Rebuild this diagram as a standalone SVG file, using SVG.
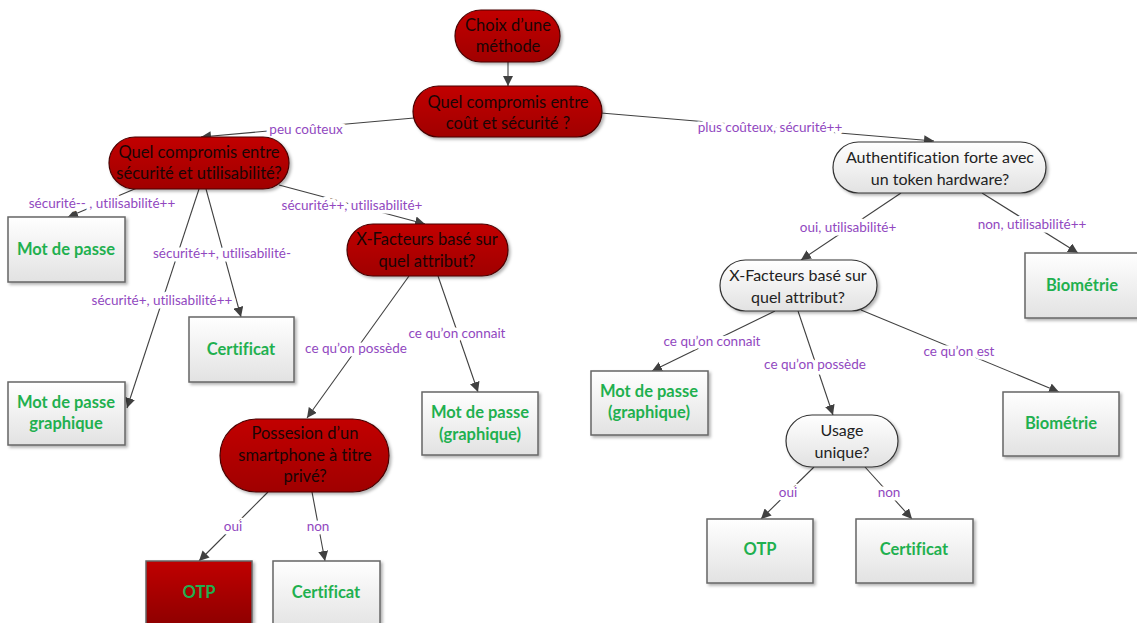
<svg xmlns="http://www.w3.org/2000/svg" width="1137" height="623" viewBox="0 0 1137 623">
  <defs>
    <linearGradient id="gRed" x1="0" y1="0" x2="0" y2="1">
      <stop offset="0" stop-color="#c20000"/>
      <stop offset="1" stop-color="#a00000"/>
    </linearGradient>
    <linearGradient id="gRedBox" x1="0" y1="0" x2="0" y2="1">
      <stop offset="0" stop-color="#c00000"/>
      <stop offset="1" stop-color="#8a0000"/>
    </linearGradient>
    <linearGradient id="gLight" x1="0" y1="0" x2="0" y2="1">
      <stop offset="0" stop-color="#ffffff"/>
      <stop offset="1" stop-color="#e2e2e2"/>
    </linearGradient>
    <filter id="shadow" x="-10%" y="-10%" width="125%" height="130%">
      <feDropShadow dx="2" dy="2" stdDeviation="1.5" flood-color="#000" flood-opacity="0.3"/>
    </filter>
    <marker id="arrow" viewBox="0 0 10 10" refX="10" refY="5" markerWidth="10" markerHeight="10" markerUnits="userSpaceOnUse" orient="auto">
      <path d="M0,0 L10,5 L0,10 z" fill="#404040"/>
    </marker>
  </defs>
  <style>
    text { font-family: Lato, "Open Sans", "Liberation Sans", sans-serif; font-variant-ligatures: none; text-anchor: middle; }
    .q { font-size: 16.5px; fill: #1a0505; }
    .qw { font-size: 16px; fill: #222; }
    .r { font-size: 16.5px; font-weight: bold; fill: #1fb04f; }
    .lbl { font-size: 13.5px; fill: #9148c0; stroke: #ffffff; stroke-width: 7px; stroke-linejoin: round; paint-order: stroke; }
    .red { fill: url(#gRed); stroke: #4a0000; stroke-width: 1.2; filter: url(#shadow); }
    .white { fill: url(#gLight); stroke: #333; stroke-width: 1.2; filter: url(#shadow); }
    .box { fill: url(#gLight); stroke: #666; stroke-width: 1.5; filter: url(#shadow); }
    .boxred { fill: url(#gRedBox); stroke: #666; stroke-width: 1.5; filter: url(#shadow); }
    .edge { fill: none; stroke: #404040; stroke-width: 1.1; marker-end: url(#arrow); }
  </style>
  <rect width="1137" height="623" fill="#ffffff"/>

  <!-- connectors -->
  <g id="connectors">
    <line class="edge" x1="508" y1="62" x2="508" y2="86"/>
    <line class="edge" x1="414" y1="118" x2="201" y2="137"/>
    <line class="edge" x1="601" y1="113" x2="934" y2="141"/>
    <line class="edge" x1="137" y1="188" x2="68" y2="217"/>
    <line class="edge" x1="199" y1="189" x2="127" y2="408"/>
    <line class="edge" x1="206" y1="189" x2="241" y2="317"/>
    <line class="edge" x1="279" y1="185" x2="425" y2="224"/>
    <line class="edge" x1="409" y1="276" x2="307" y2="418"/>
    <line class="edge" x1="438" y1="276" x2="478" y2="392"/>
    <line class="edge" x1="268" y1="492" x2="199" y2="561"/>
    <line class="edge" x1="312" y1="492" x2="325" y2="561"/>
    <line class="edge" x1="901" y1="193" x2="801" y2="260"/>
    <line class="edge" x1="982" y1="193" x2="1078" y2="253"/>
    <line class="edge" x1="775" y1="311" x2="652" y2="371"/>
    <line class="edge" x1="798" y1="311" x2="833" y2="415"/>
    <line class="edge" x1="861" y1="310" x2="1059" y2="392"/>
    <line class="edge" x1="814" y1="467" x2="761" y2="519"/>
    <line class="edge" x1="865" y1="467" x2="912" y2="519"/>

    <text class="lbl" x="306" y="134">peu coûteux</text>
    <text class="lbl" x="770" y="132">plus coûteux, sécurité++</text>
    <text class="lbl" x="102" y="208">sécurité-- , utilisabilité++</text>
    <text class="lbl" x="222" y="258">sécurité++, utilisabilité-</text>
    <text class="lbl" x="162" y="305">sécurité+, utilisabilité++</text>
    <text class="lbl" x="352" y="210">sécurité++, utilisabilité+</text>
    <text class="lbl" x="356" y="353">ce qu’on possède</text>
    <text class="lbl" x="457" y="338">ce qu’on connait</text>
    <text class="lbl" x="233" y="531">oui</text>
    <text class="lbl" x="318" y="531">non</text>
    <text class="lbl" x="848" y="232">oui, utilisabilité+</text>
    <text class="lbl" x="1032" y="229">non, utilisabilité++</text>
    <text class="lbl" x="712" y="346">ce qu’on connait</text>
    <text class="lbl" x="815" y="369">ce qu’on possède</text>
    <text class="lbl" x="959" y="356">ce qu’on est</text>
    <text class="lbl" x="788" y="497">oui</text>
    <text class="lbl" x="889" y="497">non</text>
  </g>

  <!-- question nodes -->
  <g id="n-choix">
    <rect class="red" x="455" y="10" width="105" height="52" rx="26"/>
    <text class="q" x="508" y="31">Choix d’une</text>
    <text class="q" x="508" y="52">méthode</text>
  </g>
  <g id="n-cout">
    <rect class="red" x="413" y="86" width="189" height="51" rx="25.5"/>
    <text class="q" x="508" y="108">Quel compromis entre</text>
    <text class="q" x="508" y="129">coût et sécurité ?</text>
  </g>
  <g id="n-util">
    <rect class="red" x="109" y="137" width="180" height="52" rx="26"/>
    <text class="q" x="199" y="158">Quel compromis entre</text>
    <text class="q" x="199" y="179">sécurité et utilisabilité?</text>
  </g>
  <g id="n-xf1">
    <rect class="red" x="347" y="224" width="161" height="52" rx="26"/>
    <text class="q" x="427" y="245">X-Facteurs basé sur</text>
    <text class="q" x="427" y="267">quel attribut?</text>
  </g>
  <g id="n-smart">
    <rect class="red" x="220" y="419" width="169" height="73" rx="36.5"/>
    <text class="q" x="305" y="439">Possesion d’un</text>
    <text class="q" x="305" y="461">smartphone à titre</text>
    <text class="q" x="305" y="482">privé?</text>
  </g>
  <g id="n-token">
    <rect class="white" x="833" y="142" width="213" height="51" rx="25.5"/>
    <text class="qw" x="940" y="163">Authentification forte avec</text>
    <text class="qw" x="940" y="185">un token hardware?</text>
  </g>
  <g id="n-xf2">
    <rect class="white" x="720" y="260" width="157" height="51" rx="25.5"/>
    <text class="qw" x="798" y="281">X-Facteurs basé sur</text>
    <text class="qw" x="798" y="303">quel attribut?</text>
  </g>
  <g id="n-usage">
    <rect class="white" x="786" y="415" width="112" height="52" rx="26"/>
    <text class="qw" x="842" y="436">Usage</text>
    <text class="qw" x="842" y="458">unique?</text>
  </g>

  <!-- result boxes -->
  <g id="r-mdp1">
    <rect class="box" x="8" y="217" width="117" height="65"/>
    <text class="r" x="66" y="255">Mot de passe</text>
  </g>
  <g id="r-cert1">
    <rect class="box" x="189" y="317" width="105" height="65"/>
    <text class="r" x="241" y="355">Certificat</text>
  </g>
  <g id="r-mdpg1">
    <rect class="box" x="8" y="382" width="117" height="63"/>
    <text class="r" x="66" y="408">Mot de passe</text>
    <text class="r" x="66" y="429">graphique</text>
  </g>
  <g id="r-mdpg2">
    <rect class="box" x="422" y="392" width="116" height="63"/>
    <text class="r" x="480" y="418">Mot de passe</text>
    <text class="r" x="480" y="440">(graphique)</text>
  </g>
  <g id="r-otp1">
    <rect class="boxred" x="146" y="561" width="106" height="70"/>
    <text class="r" x="199" y="598">OTP</text>
  </g>
  <g id="r-cert2">
    <rect class="box" x="273" y="561" width="107" height="70"/>
    <text class="r" x="326" y="598">Certificat</text>
  </g>
  <g id="r-bio1">
    <rect class="box" x="1025" y="253" width="116" height="65"/>
    <text class="r" x="1082" y="291">Biométrie</text>
  </g>
  <g id="r-mdpg3">
    <rect class="box" x="591" y="371" width="117" height="64"/>
    <text class="r" x="649" y="397">Mot de passe</text>
    <text class="r" x="649" y="418">(graphique)</text>
  </g>
  <g id="r-bio2">
    <rect class="box" x="1003" y="392" width="116" height="64"/>
    <text class="r" x="1061" y="429">Biométrie</text>
  </g>
  <g id="r-otp2">
    <rect class="box" x="707" y="519" width="106" height="64"/>
    <text class="r" x="760" y="555">OTP</text>
  </g>
  <g id="r-cert3">
    <rect class="box" x="856" y="519" width="117" height="64"/>
    <text class="r" x="914" y="555">Certificat</text>
  </g>
</svg>
